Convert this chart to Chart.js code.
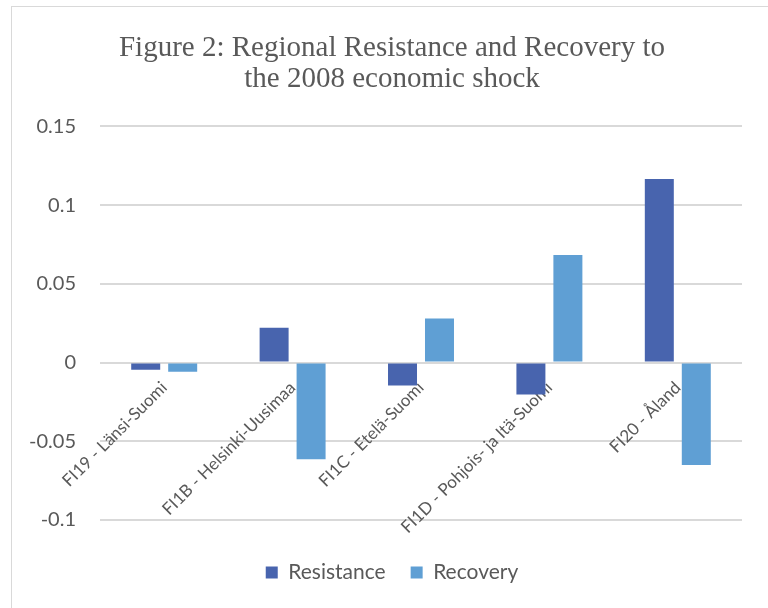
<!DOCTYPE html>
<html>
<head>
<meta charset="utf-8">
<script src="https://cdn.jsdelivr.net/npm/chart.js@4.4.1/dist/chart.umd.min.js"></script>
<style>
  html, body { margin: 0; padding: 0; background: #fff; }
  #frame {
    position: absolute; left: 11px; top: 6px;
    width: 757px; height: 602px;
    border-left: 1px solid #d9d9d9; border-top: 1px solid #d9d9d9;
  }
  #chart { display: block; }
</style>
</head>
<body>
<div id="frame"><canvas id="chart" width="756" height="601"></canvas></div>
<script>
// data
const regions = ['FI19 - Länsi-Suomi', 'FI1B - Helsinki-Uusimaa', 'FI1C - Etelä-Suomi', 'FI1D - Pohjois- ja Itä-Suomi', 'FI20 - Åland'];
const resistance = [-0.0045, 0.0222, -0.0145, -0.0203, 0.1166];
const recovery = [-0.0058, -0.0614, 0.028, 0.0684, -0.065];
const yTickLabels = ['-0.1', '-0.05', '0', '0.05', '0.1', '0.15'];
const titleLines = ['Figure 2: Regional Resistance and Recovery to', 'the 2008 economic shock'];

const textGrey = '#595959';
const gridGrey = '#d9d9d9';
const sans = "Lato, 'Open Sans', sans-serif";

// title + legend are centred on the whole frame, not on what is left after the y axis
const centerBlocks = {
  id: 'centerBlocks',
  afterLayout(chart) {
    [chart.titleBlock, chart.legend].forEach(function(b) {
      if (!b) return;
      b.left = 28;
      b.right = chart.width - 24;
    });
  }
};

const ctx = document.getElementById('chart').getContext('2d');
window.chart = new Chart(ctx, {
  type: 'bar',
  data: {
    labels: regions,
    datasets: [{
      label: 'Resistance', data: resistance,
      backgroundColor: '#4864ae', borderWidth: 0,
      categoryPercentage: 0.576, barPercentage: 0.784,
    }, {
      label: 'Recovery', data: recovery,
      backgroundColor: '#5f9fd4', borderWidth: 0,
      categoryPercentage: 0.576, barPercentage: 0.784,
    }]
  },
  plugins: [centerBlocks],
  options: {
    responsive: false, animation: false,
    layout: { padding: { left: 0, right: 26, top: 0, bottom: 15 } },
    plugins: {
      title: {
        display: true, text: titleLines, color: textGrey,
        font: { family: "'Liberation Serif', 'Times New Roman', serif", size: 29, weight: 'normal', lineHeight: 1.06 },
        padding: { top: 26, bottom: 32 }
      },
      legend: {
        position: 'bottom',
        title: { display: true, text: '', font: { size: 1, lineHeight: 1 }, padding: { top: 16, bottom: 0 } },
        labels: { boxWidth: 12, boxHeight: 12, padding: 25, color: textGrey, font: { family: sans, size: 21 } }
      },
      tooltip: { enabled: false }
    },
    scales: {
      x: {
        position: { y: 0 },
        grid: { display: false },
        border: { display: false },
        ticks: {
          autoSkip: false, maxRotation: 45, minRotation: 45, padding: 7,
          color: textGrey, font: { family: sans, size: 17 }
        }
      },
      y: {
        min: -0.1, max: 0.15,
        afterFit: function(scale) { scale.width = 88; },
        grid: { color: gridGrey, lineWidth: 2, drawTicks: false },
        border: { display: false },
        ticks: {
          stepSize: 0.05, padding: 24, color: textGrey,
          font: { family: sans, size: 20 },
          callback: function(v, i) { return yTickLabels[i]; }
        }
      }
    }
  }
});
</script>
</body>
</html>
